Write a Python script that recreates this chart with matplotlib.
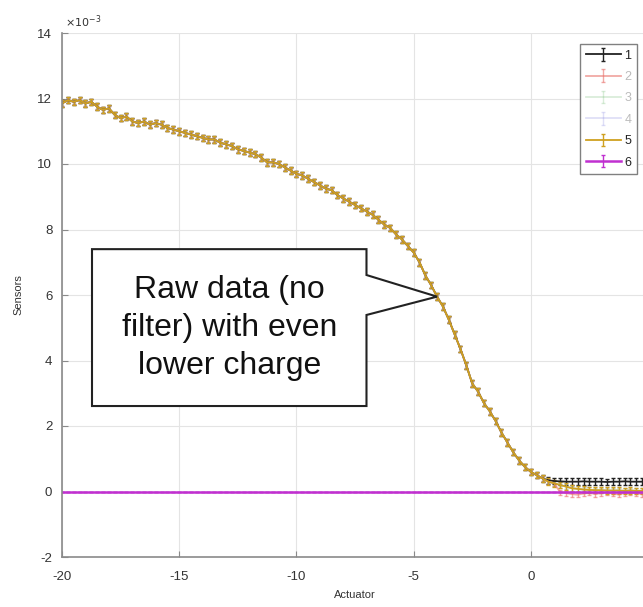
import numpy as np
import matplotlib.pyplot as plt
from matplotlib.patches import Polygon

plt.rcParams['font.family'] = ['Liberation Sans', 'DejaVu Sans']
plt.rcParams['axes.unicode_minus'] = False

# actuator positions
actuator = np.arange(-20, 5.01, 0.25)

# sensor readings (x 1e-3)
s5 = [11.85, 11.95, 11.9, 11.95, 11.85, 11.9, 11.75, 11.65, 11.7, 11.5,
      11.4, 11.45, 11.3, 11.25, 11.3, 11.2, 11.25, 11.2, 11.1, 11.05,
      11.0, 10.95, 10.9, 10.85, 10.8, 10.75, 10.75, 10.65, 10.6, 10.55,
      10.45, 10.4, 10.35, 10.3, 10.2, 10.05, 10.05, 10.0, 9.9, 9.8,
      9.7, 9.65, 9.55, 9.45, 9.35, 9.25, 9.2, 9.05, 8.95, 8.85,
      8.75, 8.65, 8.55, 8.45, 8.3, 8.15, 8.05, 7.85, 7.7, 7.5,
      7.3, 7.0, 6.6, 6.3, 5.95, 5.65, 5.25, 4.8, 4.35, 3.85,
      3.3, 3.05, 2.7, 2.45, 2.15, 1.8, 1.5, 1.2, 0.95, 0.75,
      0.6, 0.5, 0.4, 0.3, 0.25, 0.2, 0.15, 0.1, 0.08, 0.06,
      0.05, 0.04, 0.04, 0.03, 0.03, 0.03, 0.02, 0.03, 0.02, 0.02,
      0.02]
s1 = s5[:83] + [0.34, 0.32, 0.31, 0.3, 0.3, 0.3, 0.31, 0.3, 0.3,
                0.3, 0.29, 0.3, 0.3, 0.31, 0.3, 0.3, 0.3, 0.3]
s2 = s5[:85] + [-0.02, -0.05, -0.08, -0.1, -0.06, -0.04, -0.08, -0.05,
                -0.03, -0.07, -0.09, -0.05, -0.04, -0.06, -0.08, -0.05]
s3 = s5
s4 = s5
s6 = [0.0] * len(s5)

series = [s1, s2, s3, s4, s5, s6]
labels = ['1', '2', '3', '4', '5', '6']
colors = ['#222222', '#e8706a', '#6ab86a', '#8080e0', '#cfa020', '#c030d0']
alphas = [1, 0.6, 0.25, 0.25, 1, 1]
widths = [1.3, 1.3, 1.3, 1.3, 1.3, 1.8]
errs = [0.1, 0.08, 0.08, 0.08, 0.1, 0.0]

fig = plt.figure(figsize=(6.43, 6.07), dpi=100)
ax = fig.add_axes([62/643, 50/607, 586/643, 524/607])

for s, lab, c, a, w, e in zip(series, labels, colors, alphas, widths, errs):
    ax.errorbar(actuator, s, yerr=e, color=c, alpha=a, lw=w,
                elinewidth=1, capsize=1.5, label=lab)

ax.set_xlim(-20, 5)
ax.set_ylim(-2, 14)
ax.set_xticks(range(-20, 6, 5))
ax.set_xticklabels(['-20', '-15', '-10', '-5', '0', ''])
ax.set_yticks(range(-2, 15, 2))
ax.grid(True, color='#e4e4e4', lw=0.8)
ax.set_axisbelow(True)
for side in ['top', 'right']:
    ax.spines[side].set_visible(False)
for side in ['left', 'bottom']:
    ax.spines[side].set_color('#8a8a8a')
    ax.spines[side].set_linewidth(1.2)
ax.tick_params(direction='in', length=4, color='#8a8a8a', labelsize=9.5,
               labelcolor='#333333')
ax.tick_params(axis='x', pad=10)
ax.tick_params(axis='y', pad=7)
ax.set_xlabel('Actuator', fontsize=8, color='#333333', labelpad=5)
ax.set_ylabel('Sensors', fontsize=8, color='#333333', labelpad=10)
ax.text(0.005, 1.005, r'$\times10^{-3}$', transform=ax.transAxes, fontsize=8,
        color='#333333', va='bottom', ha='left')

leg = ax.legend(loc='upper right', bbox_to_anchor=(637/643, 1 - 44/607),
                bbox_transform=fig.transFigure, borderaxespad=0,
                fontsize=9, handlelength=2.8, labelspacing=0.75,
                fancybox=False, edgecolor='#808080', framealpha=1,
                borderpad=0.45, handletextpad=0.3)
for t, a in zip(leg.get_texts(), alphas):
    t.set_color('#222222' if a == 1 else '#bbbbbb')

# callout box pointing at the curve
tip_x, tip_y = actuator[64], s5[64]
box = [(-18.72, 7.40), (-7.01, 7.40), (-7.01, 6.61), (tip_x, tip_y),
       (-7.01, 5.39), (-7.01, 2.61), (-18.72, 2.61)]
ax.add_patch(Polygon(box, closed=True, facecolor='white', edgecolor='#222222',
                     lw=1.5, zorder=5))
ax.text(-12.86, 5.0, 'Raw data (no\nfilter) with even\nlower charge',
        fontsize=23, ha='center', va='center', linespacing=1.35,
        color='#111111', zorder=6)

fig.savefig('out.png', dpi=100)
